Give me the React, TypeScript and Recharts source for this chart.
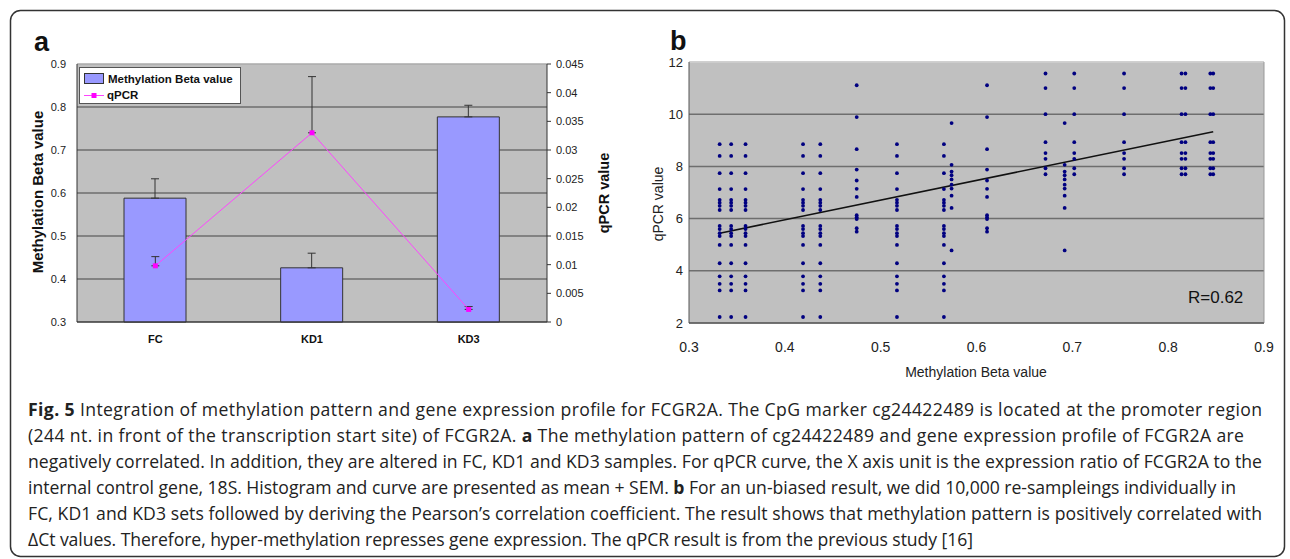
import {
  ComposedChart, Bar, Line, ErrorBar, XAxis, YAxis, CartesianGrid, Legend,
  ScatterChart, Scatter, ReferenceLine
} from "recharts";

// panel a
const groups = ["FC", "KD1", "KD3"];
const betaMean = [0.588, 0.426, 0.777];
const betaSem = [0.045, 0.034, 0.027];
const qpcrMean = [0.0098, 0.033, 0.0022];
const qpcrSem = [0.0016, 0.0098, 0.0005];
const leftTicks = [0.3, 0.4, 0.5, 0.6, 0.7, 0.8, 0.9];
const rightTicks = [0, 0.005, 0.01, 0.015, 0.02, 0.025, 0.03, 0.035, 0.04, 0.045];

// panel b
const colsA = [0.332, 0.344, 0.359, 0.419, 0.437, 0.517, 0.566];
const levelsA = [8.85, 8.4, 7.74, 7.13, 6.72, 6.61, 6.49, 6.33, 5.72, 5.6, 5.44, 5.33, 4.99, 4.29, 3.79, 3.5, 3.25, 2.23];
const colsB = [0.475, 0.611];
const levelsB = [11.11, 9.89, 8.66, 7.88, 7.46, 7.14, 6.83, 6.13, 6.05, 5.98, 5.63, 5.5];
const colsC = [0.574, 0.692];
const levelsC = [9.66, 8.06, 7.8, 7.66, 7.5, 7.3, 7.15, 6.88, 6.41, 4.78];
const colsD = [0.672, 0.702, 0.754, 0.814, 0.818, 0.844, 0.847];
const levelsD = [11.56, 11.0, 10.0, 8.93, 8.51, 8.29, 7.93, 7.7];
const trendX = [0.332, 0.847];
const trendY = [5.44, 9.33];
const xTicksB = [0.3, 0.4, 0.5, 0.6, 0.7, 0.8, 0.9];
const yTicksB = [2, 4, 6, 8, 10, 12];

const barData = groups.map((g, i) => ({
  group: g,
  beta: betaMean[i],
  betaErr: [0, betaSem[i]],
  qpcr: qpcrMean[i],
  qpcrErr: [0, qpcrSem[i]],
}));

const cols = (xs: number[], ys: number[]) =>
  xs.flatMap((x) => ys.map((y) => ({ beta: x, qpcr: y })));
const scatterData = [
  ...cols(colsA, levelsA),
  ...cols(colsB, levelsB),
  ...cols(colsC, levelsC),
  ...cols(colsD, levelsD),
];

const ARIAL = "'Liberation Sans', Arial, sans-serif";

// caption lines: [bold lead, rest, bold mid, tail, line width]
const captionLines: [string, string, string, string, number][] = [
  ["Fig. 5", " Integration of methylation pattern and gene expression profile for FCGR2A. The CpG marker cg24422489 is located at the promoter region", "", "", 1234],
  ["", "(244 nt. in front of the transcription start site) of FCGR2A. ", "a", " The methylation pattern of cg24422489 and gene expression profile of FCGR2A are", 1216],
  ["", "negatively correlated. In addition, they are altered in FC, KD1 and KD3 samples. For qPCR curve, the X axis unit is the expression ratio of FCGR2A to the", "", "", 1234],
  ["", "internal control gene, 18S. Histogram and curve are presented as mean + SEM. ", "b", " For an un-biased result, we did 10,000 re-sampleings individually in", 1208],
  ["", "FC, KD1 and KD3 sets followed by deriving the Pearson’s correlation coefficient. The result shows that methylation pattern is positively correlated with", "", "", 1234],
  ["", "ΔCt values. Therefore, hyper-methylation represses gene expression. The qPCR result is from the previous study [16]", "", "", 945],
];

const SquareDot = (p: any) =>
  p.cx == null ? null : <rect x={p.cx - 2.5} y={p.cy - 2.5} width={5} height={5} fill="#ff00ff" />;

const LegendBox = () => (
  <div style={{
    width: 162, height: 37, boxSizing: "border-box", background: "#fff",
    border: "1px solid #555", fontFamily: ARIAL, fontWeight: "bold",
    fontSize: 11.5, color: "#111", padding: "2px 4px", whiteSpace: "nowrap",
  }}>
    <div style={{ display: "flex", alignItems: "center", height: 17 }}>
      <span style={{ width: 18, height: 9, flexShrink: 0, background: "#9999ff", border: "1px solid #333", marginRight: 4 }} />
      Methylation Beta value
    </div>
    <div style={{ display: "flex", alignItems: "center", height: 16 }}>
      <svg width={20} height={9} style={{ marginRight: 3, flexShrink: 0 }}>
        <line x1={0} y1={4.5} x2={20} y2={4.5} stroke="#ff44ff" strokeWidth={1} />
        <rect x={7.5} y={2} width={5} height={5} fill="#ff00ff" />
      </svg>
      qPCR
    </div>
  </div>
);

export default function App() {
  return (
    <div style={{ position: "absolute", left: 0, top: 0, width: 1290, height: 559, background: "#fff", overflow: "hidden" }}>
      <div style={{ position: "absolute", left: 0, top: 0 }}>
        <ComposedChart width={640} height={360} data={barData} margin={{ top: 64, right: 0, bottom: 8, left: 0 }}>
          <CartesianGrid yAxisId="left" vertical={false} fill="#c0c0c0" stroke="#444" strokeWidth={1.2} />
          <XAxis dataKey="group" height={30} tickLine={false} tickMargin={7} stroke="#333"
            tick={{ fill: "#111", fontSize: 11, fontWeight: "bold", fontFamily: ARIAL }} />
          <YAxis yAxisId="left" width={77} domain={[0.3, 0.9]} ticks={leftTicks} tickLine={false}
            tickSize={6} tickMargin={5} stroke="#333" tick={{ fill: "#222", fontSize: 11, fontFamily: ARIAL }} />
          <YAxis yAxisId="right" orientation="right" width={93} domain={[0, 0.045]} ticks={rightTicks}
            tickSize={4} tickMargin={5} stroke="#333" tick={{ fill: "#222", fontSize: 11, fontFamily: ARIAL }} />
          <Legend layout="vertical" align="center" verticalAlign="middle" content={LegendBox}
            wrapperStyle={{ left: 79, top: 67, width: 162 }} />
          <Bar yAxisId="left" dataKey="beta" name="Methylation Beta value" barSize={62} fill="#9999ff"
            stroke="#333" strokeWidth={1} isAnimationActive={false}>
            <ErrorBar dataKey="betaErr" width={4} stroke="#333" strokeWidth={1} />
          </Bar>
          <Line yAxisId="right" dataKey="qpcr" name="qPCR" stroke="#ff44ff" strokeWidth={1}
            dot={<SquareDot />} activeDot={false} isAnimationActive={false}>
            <ErrorBar dataKey="qpcrErr" width={4} stroke="#333" strokeWidth={1} />
          </Line>
          <ReferenceLine yAxisId="left" y={0.9} stroke="#ddd" />
        </ComposedChart>
      </div>

      <div style={{ position: "absolute", left: 640, top: 0 }}>
        <ScatterChart width={650} height={400} margin={{ top: 62, right: 26, bottom: 22, left: 0 }}>
          <CartesianGrid vertical={false} fill="#c0c0c0" stroke="#6e6e6e" strokeWidth={1.5} />
          <XAxis type="number" dataKey="beta" domain={[0.3, 0.9]} ticks={xTicksB} height={55}
            tickLine={false} tickSize={4} tickMargin={15} stroke="#555"
            tick={{ fill: "#222", fontSize: 14, fontFamily: ARIAL }} />
          <YAxis type="number" dataKey="qpcr" domain={[2, 12]} ticks={yTicksB} width={49}
            tickLine={false} tickSize={4} tickMargin={2} stroke="#555"
            tick={{ fill: "#222", fontSize: 13, fontFamily: ARIAL }} />
          <ReferenceLine y={12} stroke="#e4e4e4" strokeWidth={1.5} />
          <ReferenceLine x={0.9} stroke="#999" strokeWidth={1} />
          <Scatter data={scatterData} isAnimationActive={false}
            shape={(p: any) => <circle cx={p.cx} cy={p.cy} r={1.9} fill="#000080" />} />
          <ReferenceLine segment={[{ x: trendX[0], y: trendY[0] }, { x: trendX[1], y: trendY[1] }]}
            stroke="#111" strokeWidth={1.6} />
        </ScatterChart>
      </div>

      <svg width={1290} height={559} style={{ position: "absolute", left: 0, top: 0, pointerEvents: "none" }}>
        <rect x={10.5} y={10.5} width={1274} height={546} rx={10} fill="none" stroke="#333" strokeWidth={1.5} />
        <text x={34} y={51} fontFamily={ARIAL} fontWeight="bold" fontSize={27} fill="#111">a</text>
        <text x={670} y={50} fontFamily={ARIAL} fontWeight="bold" fontSize={27} fill="#111">b</text>
        <text x={37} y={192} transform="rotate(-90 37 192)" textAnchor="middle" dominantBaseline="central"
          fontFamily={ARIAL} fontWeight="bold" fontSize={15} fill="#111">Methylation Beta value</text>
        <text x={604} y={193} transform="rotate(-90 604 193)" textAnchor="middle" dominantBaseline="central"
          fontFamily={ARIAL} fontWeight="bold" fontSize={14.5} fill="#111">qPCR value</text>
        <text x={658} y={204} transform="rotate(-90 658 204)" textAnchor="middle" dominantBaseline="central"
          fontFamily={ARIAL} fontSize={14} fill="#222">qPCR value</text>
        <text x={976} y={377} textAnchor="middle" fontFamily={ARIAL} fontSize={14} fill="#222">Methylation Beta value</text>
        <text x={1188} y={303} fontFamily={ARIAL} fontSize={17} fill="#111">R=0.62</text>
        {captionLines.map(([lead, rest, mid, tail, w], i) => (
          <text key={i} x={28} y={416 + 26 * i} textLength={w} lengthAdjust="spacing"
            fontFamily="'Open Sans', sans-serif" fontSize={17.6} fill="#222">
            {lead && <tspan fontWeight="bold">{lead}</tspan>}
            <tspan>{rest}</tspan>
            {mid && <tspan fontWeight="bold">{mid}</tspan>}
            {tail && <tspan>{tail}</tspan>}
          </text>
        ))}
      </svg>
    </div>
  );
}
